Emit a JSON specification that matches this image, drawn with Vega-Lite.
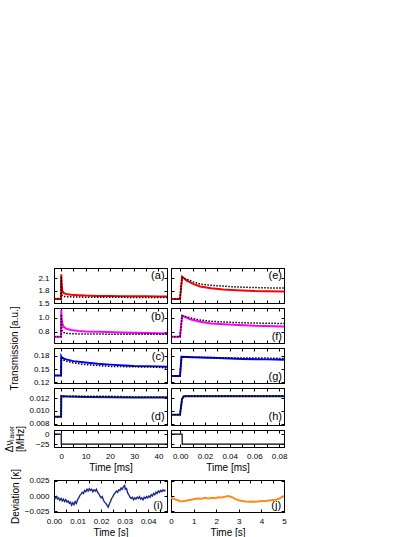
{
"$schema": "https://vega.github.io/schema/vega-lite/v6.json",
"padding": {"left": 3, "top": 267, "right": 2, "bottom": 2},
"bounds": "flush",
"columns": 2,
"spacing": {"row": 5, "column": 4},
"config": {
  "font": "Liberation Sans",
  "view": {"stroke": "#000", "strokeWidth": 1},
  "axis": {"domainColor": "#000", "tickColor": "#000", "tickSize": -3, "labelColor": "#000", "labelFontSize": 8, "labelPadding": 8, "labelFlush": false, "labelOverlap": false, "titleFontSize": 10, "titleFontWeight": "normal", "titleColor": "#000", "grid": false, "titlePadding": 2},
  "text": {"font": "Liberation Sans"}
},
"datasets": {
  "lab": [{"k": 1}],
  "a": [
    {"t": -3, "m": 1.60, "f": 1.60}, {"t": -1.5, "m": 1.605, "f": 1.60}, {"t": -0.1, "m": 1.60, "f": 1.60},
    {"t": 0, "m": 2.20, "f": 2.15}, {"t": 0.15, "m": 1.95, "f": 1.80}, {"t": 0.4, "m": 1.80, "f": 1.68},
    {"t": 1, "m": 1.74, "f": 1.66}, {"t": 2, "m": 1.72, "f": 1.655}, {"t": 4, "m": 1.70, "f": 1.65},
    {"t": 7, "m": 1.69, "f": 1.645}, {"t": 10, "m": 1.68, "f": 1.642}, {"t": 15, "m": 1.672, "f": 1.64},
    {"t": 20, "m": 1.668, "f": 1.638}, {"t": 25, "m": 1.665, "f": 1.637}, {"t": 30, "m": 1.663, "f": 1.636},
    {"t": 35, "m": 1.661, "f": 1.636}, {"t": 40, "m": 1.66, "f": 1.635}, {"t": 43.5, "m": 1.66, "f": 1.635}
  ],
  "e": [
    {"t": -0.0075, "m": 1.60, "f": 1.60}, {"t": -0.0002, "m": 1.60, "f": 1.60}, {"t": 0.0015, "m": 2.14, "f": 2.12},
    {"t": 0.005, "m": 2.05, "f": 2.08}, {"t": 0.01, "m": 1.97, "f": 2.02}, {"t": 0.016, "m": 1.90, "f": 1.96},
    {"t": 0.025, "m": 1.86, "f": 1.93}, {"t": 0.035, "m": 1.83, "f": 1.91}, {"t": 0.045, "m": 1.81, "f": 1.89},
    {"t": 0.06, "m": 1.79, "f": 1.875}, {"t": 0.07, "m": 1.785, "f": 1.868}, {"t": 0.084, "m": 1.78, "f": 1.862}
  ],
  "b": [
    {"t": -3, "m": 0.73, "f": 0.73}, {"t": -0.1, "m": 0.73, "f": 0.73}, {"t": 0, "m": 1.11, "f": 1.05},
    {"t": 0.15, "m": 0.98, "f": 0.88}, {"t": 0.4, "m": 0.92, "f": 0.81}, {"t": 1, "m": 0.87, "f": 0.79},
    {"t": 2, "m": 0.845, "f": 0.778}, {"t": 4, "m": 0.825, "f": 0.772}, {"t": 7, "m": 0.812, "f": 0.77},
    {"t": 10, "m": 0.805, "f": 0.768}, {"t": 16, "m": 0.80, "f": 0.767}, {"t": 25, "m": 0.79, "f": 0.766},
    {"t": 35, "m": 0.782, "f": 0.766}, {"t": 43.5, "m": 0.777, "f": 0.766}
  ],
  "f": [
    {"t": -0.0075, "m": 0.73, "f": 0.73}, {"t": -0.0002, "m": 0.73, "f": 0.73}, {"t": 0.0015, "m": 1.03, "f": 1.03},
    {"t": 0.008, "m": 0.98, "f": 1.0}, {"t": 0.016, "m": 0.943, "f": 0.967}, {"t": 0.025, "m": 0.92, "f": 0.95},
    {"t": 0.043, "m": 0.90, "f": 0.933}, {"t": 0.06, "m": 0.885, "f": 0.925}, {"t": 0.084, "m": 0.876, "f": 0.919}
  ],
  "c": [
    {"t": -3, "m": 0.135, "f": 0.135}, {"t": -0.1, "m": 0.135, "f": 0.135}, {"t": 0, "m": 0.179, "f": 0.178},
    {"t": 0.3, "m": 0.176, "f": 0.173}, {"t": 1, "m": 0.174, "f": 0.170}, {"t": 2, "m": 0.172, "f": 0.168},
    {"t": 5, "m": 0.168, "f": 0.164}, {"t": 10, "m": 0.165, "f": 0.160}, {"t": 15, "m": 0.162, "f": 0.158},
    {"t": 20, "m": 0.160, "f": 0.156}, {"t": 30, "m": 0.157, "f": 0.155}, {"t": 40, "m": 0.156, "f": 0.154},
    {"t": 43.5, "m": 0.155, "f": 0.152}
  ],
  "g": [
    {"t": -0.0075, "m": 0.134, "f": 0.134}, {"t": -0.0002, "m": 0.134, "f": 0.134}, {"t": 0.001, "m": 0.178, "f": 0.178},
    {"t": 0.01, "m": 0.177, "f": 0.177}, {"t": 0.03, "m": 0.175, "f": 0.176}, {"t": 0.05, "m": 0.173, "f": 0.175},
    {"t": 0.07, "m": 0.172, "f": 0.175}, {"t": 0.084, "m": 0.171, "f": 0.174}
  ],
  "d": [
    {"t": -3, "m": 0.0091, "f": 0.0091}, {"t": -0.1, "m": 0.0091, "f": 0.0091}, {"t": 0, "m": 0.0123, "f": 0.0124},
    {"t": 2, "m": 0.01225, "f": 0.01235}, {"t": 10, "m": 0.0122, "f": 0.0123}, {"t": 20, "m": 0.01215, "f": 0.0123},
    {"t": 30, "m": 0.0121, "f": 0.0122}, {"t": 43.5, "m": 0.0121, "f": 0.0122}
  ],
  "h": [
    {"t": -0.0075, "m": 0.0094, "f": 0.0094}, {"t": -0.0002, "m": 0.0094, "f": 0.0094}, {"t": 0.0005, "m": 0.0105, "f": 0.0106},
    {"t": 0.0015, "m": 0.0119, "f": 0.012}, {"t": 0.003, "m": 0.0123, "f": 0.0124}, {"t": 0.02, "m": 0.0123, "f": 0.0124},
    {"t": 0.05, "m": 0.0123, "f": 0.0124}, {"t": 0.084, "m": 0.0123, "f": 0.0124}
  ],
  "nuL": [{"t": -3, "v": 0}, {"t": -0.02, "v": 0}, {"t": 0, "v": -25}, {"t": 43.5, "v": -25}],
  "nuR": [{"t": -0.0075, "v": 0}, {"t": 0.0015, "v": 0}, {"t": 0.0016, "v": -25}, {"t": 0.084, "v": -25}],
  "i": [
    {"t": 0.0000, "v": -0.002}, {"t": 0.0005, "v": -0.004}, {"t": 0.0010, "v": -0.001}, {"t": 0.0015, "v": -0.005},
    {"t": 0.0020, "v": -0.003}, {"t": 0.0025, "v": -0.007}, {"t": 0.0030, "v": -0.004}, {"t": 0.0035, "v": -0.008},
    {"t": 0.0040, "v": -0.005}, {"t": 0.0045, "v": -0.009}, {"t": 0.0050, "v": -0.006}, {"t": 0.0055, "v": -0.010},
    {"t": 0.0060, "v": -0.008}, {"t": 0.0065, "v": -0.012}, {"t": 0.0070, "v": -0.010}, {"t": 0.0075, "v": -0.015},
    {"t": 0.0080, "v": -0.011}, {"t": 0.0085, "v": -0.014}, {"t": 0.0090, "v": -0.009}, {"t": 0.0095, "v": -0.012},
    {"t": 0.0100, "v": -0.006}, {"t": 0.0105, "v": -0.003}, {"t": 0.0110, "v": 0.001}, {"t": 0.0115, "v": 0.003},
    {"t": 0.0120, "v": 0.006}, {"t": 0.0125, "v": 0.004}, {"t": 0.0130, "v": 0.009}, {"t": 0.0135, "v": 0.007},
    {"t": 0.0140, "v": 0.011}, {"t": 0.0145, "v": 0.008}, {"t": 0.0150, "v": 0.012}, {"t": 0.0155, "v": 0.009},
    {"t": 0.0160, "v": 0.011}, {"t": 0.0165, "v": 0.007}, {"t": 0.0170, "v": 0.010}, {"t": 0.0175, "v": 0.008},
    {"t": 0.0180, "v": 0.011}, {"t": 0.0185, "v": 0.006}, {"t": 0.0190, "v": 0.004}, {"t": 0.0195, "v": 0.000},
    {"t": 0.0200, "v": -0.003}, {"t": 0.0205, "v": -0.001}, {"t": 0.0210, "v": -0.007}, {"t": 0.0215, "v": -0.010},
    {"t": 0.0220, "v": -0.012}, {"t": 0.0225, "v": -0.015}, {"t": 0.0230, "v": -0.018}, {"t": 0.0235, "v": -0.013},
    {"t": 0.0240, "v": -0.009}, {"t": 0.0245, "v": -0.004}, {"t": 0.0250, "v": -0.001}, {"t": 0.0255, "v": 0.003},
    {"t": 0.0260, "v": 0.005}, {"t": 0.0265, "v": 0.008}, {"t": 0.0270, "v": 0.006}, {"t": 0.0275, "v": 0.010},
    {"t": 0.0280, "v": 0.009}, {"t": 0.0285, "v": 0.013}, {"t": 0.0290, "v": 0.011}, {"t": 0.0295, "v": 0.015},
    {"t": 0.0300, "v": 0.017}, {"t": 0.0303, "v": 0.011}, {"t": 0.0308, "v": 0.012}, {"t": 0.0313, "v": 0.005},
    {"t": 0.0318, "v": 0.002}, {"t": 0.0323, "v": -0.002}, {"t": 0.0328, "v": -0.004}, {"t": 0.0333, "v": -0.002},
    {"t": 0.0338, "v": -0.006}, {"t": 0.0343, "v": -0.003}, {"t": 0.0348, "v": -0.005}, {"t": 0.0353, "v": -0.002},
    {"t": 0.0358, "v": -0.004}, {"t": 0.0363, "v": -0.001}, {"t": 0.0368, "v": -0.005}, {"t": 0.0373, "v": -0.003},
    {"t": 0.0378, "v": -0.006}, {"t": 0.0383, "v": -0.002}, {"t": 0.0388, "v": -0.004}, {"t": 0.0393, "v": -0.001},
    {"t": 0.0398, "v": -0.003}, {"t": 0.0403, "v": 0.000}, {"t": 0.0408, "v": -0.002}, {"t": 0.0413, "v": 0.002},
    {"t": 0.0418, "v": 0.000}, {"t": 0.0423, "v": 0.004}, {"t": 0.0428, "v": 0.002}, {"t": 0.0433, "v": 0.006},
    {"t": 0.0438, "v": 0.004}, {"t": 0.0443, "v": 0.008}, {"t": 0.0448, "v": 0.006}, {"t": 0.0453, "v": 0.009},
    {"t": 0.0458, "v": 0.007}, {"t": 0.0463, "v": 0.010}, {"t": 0.0468, "v": 0.008}, {"t": 0.0473, "v": 0.010}
  ],
  "j": [
    {"t": 0.0, "v": -0.003}, {"t": 0.15, "v": -0.005}, {"t": 0.3, "v": -0.007}, {"t": 0.45, "v": -0.009},
    {"t": 0.6, "v": -0.008}, {"t": 0.75, "v": -0.007}, {"t": 0.9, "v": -0.006}, {"t": 1.05, "v": -0.005},
    {"t": 1.2, "v": -0.004}, {"t": 1.35, "v": -0.0045}, {"t": 1.5, "v": -0.003}, {"t": 1.65, "v": -0.004},
    {"t": 1.8, "v": -0.003}, {"t": 1.95, "v": -0.0035}, {"t": 2.1, "v": -0.002}, {"t": 2.25, "v": -0.0025},
    {"t": 2.4, "v": -0.001}, {"t": 2.55, "v": 0.000}, {"t": 2.7, "v": -0.002}, {"t": 2.85, "v": -0.005},
    {"t": 3.0, "v": -0.007}, {"t": 3.15, "v": -0.008}, {"t": 3.3, "v": -0.009}, {"t": 3.45, "v": -0.0095},
    {"t": 3.6, "v": -0.009}, {"t": 3.75, "v": -0.0092}, {"t": 3.9, "v": -0.0085}, {"t": 4.05, "v": -0.0082},
    {"t": 4.2, "v": -0.008}, {"t": 4.35, "v": -0.0072}, {"t": 4.5, "v": -0.0065}, {"t": 4.65, "v": -0.006},
    {"t": 4.8, "v": -0.004}, {"t": 4.9, "v": -0.002}, {"t": 5.0, "v": 0.000}
  ]
},
"concat": [
  {"width": 113, "height": 35, "data": {"name": "a"}, "resolve": {"axis": {"x": "independent", "y": "independent"}},
   "layer": [
    {"mark": {"type": "line", "color": "#ff0000", "strokeWidth": 2, "clip": true},
     "encoding": {
      "x": {"field": "t", "type": "quantitative", "scale": {"domain": [-3, 43.5], "nice": false, "zero": false}, "axis": {"orient": "bottom", "values": [0,5,10,15,20,25,30,35,40], "labels": false, "title": null}},
      "y": {"field": "m", "type": "quantitative", "scale": {"domain": [1.5, 2.35], "nice": false, "zero": false}, "axis": {"values": [1.5,1.8,2.1], "format": ".1f", "title": null}}}},
    {"mark": {"type": "line", "color": "#000", "strokeWidth": 1.5, "strokeDash": [1.5,1.5], "clip": true},
     "encoding": {
      "x": {"field": "t", "type": "quantitative", "axis": {"orient": "top", "values": [0,5,10,15,20,25,30,35,40], "labels": false, "title": null}},
      "y": {"field": "f", "type": "quantitative", "axis": {"orient": "right", "values": [1.5,1.8,2.1], "labels": false, "title": null}}}},
    {"data": {"name": "lab"}, "mark": {"type": "text", "text": "(a)", "align": "right", "baseline": "top", "fontSize": 11},
     "encoding": {"x": {"datum": 42.5, "axis": null}, "y": {"datum": 2.29, "axis": null}}}
   ]},
  {"width": 113, "height": 35, "data": {"name": "e"}, "resolve": {"axis": {"x": "independent", "y": "independent"}},
   "layer": [
    {"mark": {"type": "line", "color": "#ff0000", "strokeWidth": 2, "clip": true},
     "encoding": {
      "x": {"field": "t", "type": "quantitative", "scale": {"domain": [-0.0075, 0.084], "nice": false, "zero": false}, "axis": {"orient": "bottom", "values": [0,0.01,0.02,0.03,0.04,0.05,0.06,0.07,0.08], "labels": false, "title": null}},
      "y": {"field": "m", "type": "quantitative", "scale": {"domain": [1.5, 2.35], "nice": false, "zero": false}, "axis": {"values": [1.5,1.8,2.1], "labels": false, "title": null}}}},
    {"mark": {"type": "line", "color": "#000", "strokeWidth": 1.5, "strokeDash": [1.5,1.5], "clip": true},
     "encoding": {
      "x": {"field": "t", "type": "quantitative", "axis": {"orient": "top", "values": [0,0.01,0.02,0.03,0.04,0.05,0.06,0.07,0.08], "labels": false, "title": null}},
      "y": {"field": "f", "type": "quantitative", "axis": {"orient": "right", "values": [1.5,1.8,2.1], "labels": false, "title": null}}}},
    {"data": {"name": "lab"}, "mark": {"type": "text", "text": "(e)", "align": "right", "baseline": "top", "fontSize": 11},
     "encoding": {"x": {"datum": 0.0824, "axis": null}, "y": {"datum": 2.29, "axis": null}}}
   ]},
  {"width": 113, "height": 35, "data": {"name": "b"}, "resolve": {"axis": {"x": "independent", "y": "independent"}},
   "layer": [
    {"mark": {"type": "line", "color": "#ff00ff", "strokeWidth": 2, "clip": true},
     "encoding": {
      "x": {"field": "t", "type": "quantitative", "scale": {"domain": [-3, 43.5], "nice": false, "zero": false}, "axis": {"orient": "bottom", "values": [0,5,10,15,20,25,30,35,40], "labels": false, "title": null}},
      "y": {"field": "m", "type": "quantitative", "scale": {"domain": [0.64, 1.14], "nice": false, "zero": false}, "axis": {"values": [0.8,1.0], "format": ".1f", "title": "Transmission [a.u.]", "titleX": -45, "titleY": 40, "titleBaseline": "top"}}}},
    {"mark": {"type": "line", "color": "#000", "strokeWidth": 1.5, "strokeDash": [1.5,1.5], "clip": true},
     "encoding": {
      "x": {"field": "t", "type": "quantitative", "axis": {"orient": "top", "values": [0,5,10,15,20,25,30,35,40], "labels": false, "title": null}},
      "y": {"field": "f", "type": "quantitative", "axis": {"orient": "right", "values": [0.8,1.0], "labels": false, "title": null}}}},
    {"data": {"name": "lab"}, "mark": {"type": "text", "text": "(b)", "align": "right", "baseline": "top", "fontSize": 11},
     "encoding": {"x": {"datum": 42.5, "axis": null}, "y": {"datum": 1.097, "axis": null}}}
   ]},
  {"width": 113, "height": 35, "data": {"name": "f"}, "resolve": {"axis": {"x": "independent", "y": "independent"}},
   "layer": [
    {"mark": {"type": "line", "color": "#ff00ff", "strokeWidth": 2, "clip": true},
     "encoding": {
      "x": {"field": "t", "type": "quantitative", "scale": {"domain": [-0.0075, 0.084], "nice": false, "zero": false}, "axis": {"orient": "bottom", "values": [0,0.01,0.02,0.03,0.04,0.05,0.06,0.07,0.08], "labels": false, "title": null}},
      "y": {"field": "m", "type": "quantitative", "scale": {"domain": [0.64, 1.14], "nice": false, "zero": false}, "axis": {"values": [0.8,1.0], "labels": false, "title": null}}}},
    {"mark": {"type": "line", "color": "#000", "strokeWidth": 1.5, "strokeDash": [1.5,1.5], "clip": true},
     "encoding": {
      "x": {"field": "t", "type": "quantitative", "axis": {"orient": "top", "values": [0,0.01,0.02,0.03,0.04,0.05,0.06,0.07,0.08], "labels": false, "title": null}},
      "y": {"field": "f", "type": "quantitative", "axis": {"orient": "right", "values": [0.8,1.0], "labels": false, "title": null}}}},
    {"data": {"name": "lab"}, "mark": {"type": "text", "text": "(f)", "align": "right", "baseline": "bottom", "fontSize": 11},
     "encoding": {"x": {"datum": 0.0824, "axis": null}, "y": {"datum": 0.655, "axis": null}}}
   ]},
  {"width": 113, "height": 35, "data": {"name": "c"}, "resolve": {"axis": {"x": "independent", "y": "independent"}},
   "layer": [
    {"mark": {"type": "line", "color": "#0000ff", "strokeWidth": 2, "clip": true},
     "encoding": {
      "x": {"field": "t", "type": "quantitative", "scale": {"domain": [-3, 43.5], "nice": false, "zero": false}, "axis": {"orient": "bottom", "values": [0,5,10,15,20,25,30,35,40], "labels": false, "title": null}},
      "y": {"field": "m", "type": "quantitative", "scale": {"domain": [0.118, 0.198], "nice": false, "zero": false}, "axis": {"values": [0.12,0.15,0.18], "format": ".2f", "title": null}}}},
    {"mark": {"type": "line", "color": "#000", "strokeWidth": 1.5, "strokeDash": [1.5,1.5], "clip": true},
     "encoding": {
      "x": {"field": "t", "type": "quantitative", "axis": {"orient": "top", "values": [0,5,10,15,20,25,30,35,40], "labels": false, "title": null}},
      "y": {"field": "f", "type": "quantitative", "axis": {"orient": "right", "values": [0.12,0.15,0.18], "labels": false, "title": null}}}},
    {"data": {"name": "lab"}, "mark": {"type": "text", "text": "(c)", "align": "right", "baseline": "top", "fontSize": 11},
     "encoding": {"x": {"datum": 42.5, "axis": null}, "y": {"datum": 0.191, "axis": null}}}
   ]},
  {"width": 113, "height": 35, "data": {"name": "g"}, "resolve": {"axis": {"x": "independent", "y": "independent"}},
   "layer": [
    {"mark": {"type": "line", "color": "#0000ff", "strokeWidth": 2, "clip": true},
     "encoding": {
      "x": {"field": "t", "type": "quantitative", "scale": {"domain": [-0.0075, 0.084], "nice": false, "zero": false}, "axis": {"orient": "bottom", "values": [0,0.01,0.02,0.03,0.04,0.05,0.06,0.07,0.08], "labels": false, "title": null}},
      "y": {"field": "m", "type": "quantitative", "scale": {"domain": [0.118, 0.198], "nice": false, "zero": false}, "axis": {"values": [0.12,0.15,0.18], "labels": false, "title": null}}}},
    {"mark": {"type": "line", "color": "#000", "strokeWidth": 1.5, "strokeDash": [1.5,1.5], "clip": true},
     "encoding": {
      "x": {"field": "t", "type": "quantitative", "axis": {"orient": "top", "values": [0,0.01,0.02,0.03,0.04,0.05,0.06,0.07,0.08], "labels": false, "title": null}},
      "y": {"field": "f", "type": "quantitative", "axis": {"orient": "right", "values": [0.12,0.15,0.18], "labels": false, "title": null}}}},
    {"data": {"name": "lab"}, "mark": {"type": "text", "text": "(g)", "align": "right", "baseline": "bottom", "fontSize": 11},
     "encoding": {"x": {"datum": 0.0824, "axis": null}, "y": {"datum": 0.1203, "axis": null}}}
   ]},
  {"width": 113, "height": 37, "data": {"name": "d"}, "resolve": {"axis": {"x": "independent", "y": "independent"}},
   "layer": [
    {"mark": {"type": "line", "color": "#0a1a8c", "strokeWidth": 2, "clip": true},
     "encoding": {
      "x": {"field": "t", "type": "quantitative", "scale": {"domain": [-3, 43.5], "nice": false, "zero": false}, "axis": {"orient": "bottom", "values": [0,5,10,15,20,25,30,35,40], "labels": false, "title": null}},
      "y": {"field": "m", "type": "quantitative", "scale": {"domain": [0.0078, 0.0136], "nice": false, "zero": false}, "axis": {"values": [0.008,0.010,0.012], "format": ".3f", "title": null}}}},
    {"mark": {"type": "line", "color": "#000", "strokeWidth": 1.5, "strokeDash": [1.5,1.5], "clip": true},
     "encoding": {
      "x": {"field": "t", "type": "quantitative", "axis": {"orient": "top", "values": [0,5,10,15,20,25,30,35,40], "labels": false, "title": null}},
      "y": {"field": "f", "type": "quantitative", "axis": {"orient": "right", "values": [0.008,0.010,0.012], "labels": false, "title": null}}}},
    {"data": {"name": "lab"}, "mark": {"type": "text", "text": "(d)", "align": "right", "baseline": "bottom", "fontSize": 11},
     "encoding": {"x": {"datum": 42.5, "axis": null}, "y": {"datum": 0.0082, "axis": null}}}
   ]},
  {"width": 113, "height": 37, "data": {"name": "h"}, "resolve": {"axis": {"x": "independent", "y": "independent"}},
   "layer": [
    {"mark": {"type": "line", "color": "#0a1a8c", "strokeWidth": 2, "clip": true},
     "encoding": {
      "x": {"field": "t", "type": "quantitative", "scale": {"domain": [-0.0075, 0.084], "nice": false, "zero": false}, "axis": {"orient": "bottom", "values": [0,0.01,0.02,0.03,0.04,0.05,0.06,0.07,0.08], "labels": false, "title": null}},
      "y": {"field": "m", "type": "quantitative", "scale": {"domain": [0.0078, 0.0136], "nice": false, "zero": false}, "axis": {"values": [0.008,0.010,0.012], "labels": false, "title": null}}}},
    {"mark": {"type": "line", "color": "#000", "strokeWidth": 1.5, "strokeDash": [1.5,1.5], "clip": true},
     "encoding": {
      "x": {"field": "t", "type": "quantitative", "axis": {"orient": "top", "values": [0,0.01,0.02,0.03,0.04,0.05,0.06,0.07,0.08], "labels": false, "title": null}},
      "y": {"field": "f", "type": "quantitative", "axis": {"orient": "right", "values": [0.008,0.010,0.012], "labels": false, "title": null}}}},
    {"data": {"name": "lab"}, "mark": {"type": "text", "text": "(h)", "align": "right", "baseline": "bottom", "fontSize": 11},
     "encoding": {"x": {"datum": 0.0824, "axis": null}, "y": {"datum": 0.0082, "axis": null}}}
   ]},
  {"width": 113, "height": 17, "data": {"name": "nuL"}, "resolve": {"axis": {"x": "independent", "y": "independent"}},
   "layer": [
    {"mark": {"type": "line", "color": "#000", "strokeWidth": 1.2, "clip": true},
     "encoding": {
      "x": {"field": "t", "type": "quantitative", "scale": {"domain": [-3, 43.5], "nice": false, "zero": false}, "axis": {"orient": "bottom", "values": [0,5,10,15,20,25,30,35,40], "labelExpr": "datum.value % 10 === 0 ? datum.label : ''", "title": "Time [ms]"}},
      "y": {"field": "v", "type": "quantitative", "scale": {"domain": [-32, 10], "nice": false, "zero": false}, "axis": {"values": [-25, 0], "title": ["Δνₗₐₛₑᵣ", "[MHz]"], "titleX": -50, "titleBaseline": "top", "titleLineHeight": 11}}}},
    {"mark": {"type": "line", "opacity": 0},
     "encoding": {
      "x": {"field": "t", "type": "quantitative", "axis": {"orient": "top", "values": [0,5,10,15,20,25,30,35,40], "labels": false, "title": null}},
      "y": {"field": "v", "type": "quantitative", "axis": {"orient": "right", "values": [-25, 0], "labels": false, "title": null}}}}
   ]},
  {"width": 113, "height": 17, "data": {"name": "nuR"}, "resolve": {"axis": {"x": "independent", "y": "independent"}},
   "layer": [
    {"mark": {"type": "line", "color": "#000", "strokeWidth": 1.2, "clip": true},
     "encoding": {
      "x": {"field": "t", "type": "quantitative", "scale": {"domain": [-0.0075, 0.084], "nice": false, "zero": false}, "axis": {"orient": "bottom", "values": [0,0.01,0.02,0.03,0.04,0.05,0.06,0.07,0.08], "format": ".2f", "labelExpr": "round(datum.value * 100) % 2 === 0 ? datum.label : ''", "title": "Time [ms]"}},
      "y": {"field": "v", "type": "quantitative", "scale": {"domain": [-32, 10], "nice": false, "zero": false}, "axis": {"values": [-25, 0], "labels": false, "title": null}}}},
    {"mark": {"type": "line", "opacity": 0},
     "encoding": {
      "x": {"field": "t", "type": "quantitative", "axis": {"orient": "top", "values": [0,0.01,0.02,0.03,0.04,0.05,0.06,0.07,0.08], "labels": false, "title": null}},
      "y": {"field": "v", "type": "quantitative", "axis": {"orient": "right", "values": [-25, 0], "labels": false, "title": null}}}}
   ]},
  {"width": 113, "height": 23, "data": {"name": "lab"}, "mark": {"type": "text", "text": ""}, "view": {"stroke": null}},
  {"width": 113, "height": 23, "data": {"name": "lab"}, "mark": {"type": "text", "text": ""}, "view": {"stroke": null}},
  {"width": 113, "height": 32, "data": {"name": "i"}, "resolve": {"axis": {"x": "independent", "y": "independent"}},
   "layer": [
    {"mark": {"type": "line", "color": "#1a2a8c", "strokeWidth": 1.4, "clip": true},
     "encoding": {
      "x": {"field": "t", "type": "quantitative", "scale": {"domain": [0, 0.048], "nice": false, "zero": false}, "axis": {"orient": "bottom", "values": [0,0.005,0.01,0.015,0.02,0.025,0.03,0.035,0.04,0.045], "format": ".2f", "labelExpr": "round(datum.value * 1000) % 10 === 0 ? datum.label : ''", "title": "Time [s]"}},
      "y": {"field": "v", "type": "quantitative", "scale": {"domain": [-0.026, 0.026], "nice": false, "zero": false}, "axis": {"values": [-0.025, 0, 0.025], "format": ".3f", "title": "Deviation [κ]", "titleX": -44, "titleBaseline": "top"}}}},
    {"mark": {"type": "line", "opacity": 0},
     "encoding": {
      "x": {"field": "t", "type": "quantitative", "axis": {"orient": "top", "values": [0,0.005,0.01,0.015,0.02,0.025,0.03,0.035,0.04,0.045], "labels": false, "title": null}},
      "y": {"field": "v", "type": "quantitative", "axis": {"orient": "right", "values": [-0.025, 0, 0.025], "labels": false, "title": null}}}},
    {"data": {"name": "lab"}, "mark": {"type": "text", "text": "(i)", "align": "right", "baseline": "bottom", "fontSize": 11},
     "encoding": {"x": {"datum": 0.0463, "axis": null}, "y": {"datum": -0.0244, "axis": null}}}
   ]},
  {"width": 113, "height": 32, "data": {"name": "j"}, "resolve": {"axis": {"x": "independent", "y": "independent"}},
   "layer": [
    {"mark": {"type": "line", "color": "#ff8c1a", "strokeWidth": 2, "clip": true},
     "encoding": {
      "x": {"field": "t", "type": "quantitative", "scale": {"domain": [0, 5], "nice": false, "zero": false}, "axis": {"orient": "bottom", "values": [0,0.5,1,1.5,2,2.5,3,3.5,4,4.5,5], "format": "d", "labelExpr": "datum.value % 1 === 0 ? datum.label : ''", "title": "Time [s]"}},
      "y": {"field": "v", "type": "quantitative", "scale": {"domain": [-0.026, 0.026], "nice": false, "zero": false}, "axis": {"values": [-0.025, 0, 0.025], "labels": false, "title": null}}}},
    {"mark": {"type": "line", "opacity": 0},
     "encoding": {
      "x": {"field": "t", "type": "quantitative", "axis": {"orient": "top", "values": [0,0.5,1,1.5,2,2.5,3,3.5,4,4.5,5], "labels": false, "title": null}},
      "y": {"field": "v", "type": "quantitative", "axis": {"orient": "right", "values": [-0.025, 0, 0.025], "labels": false, "title": null}}}},
    {"data": {"name": "lab"}, "mark": {"type": "text", "text": "(j)", "align": "right", "baseline": "bottom", "fontSize": 11},
     "encoding": {"x": {"datum": 4.87, "axis": null}, "y": {"datum": -0.0244, "axis": null}}}
   ]}
]
}
